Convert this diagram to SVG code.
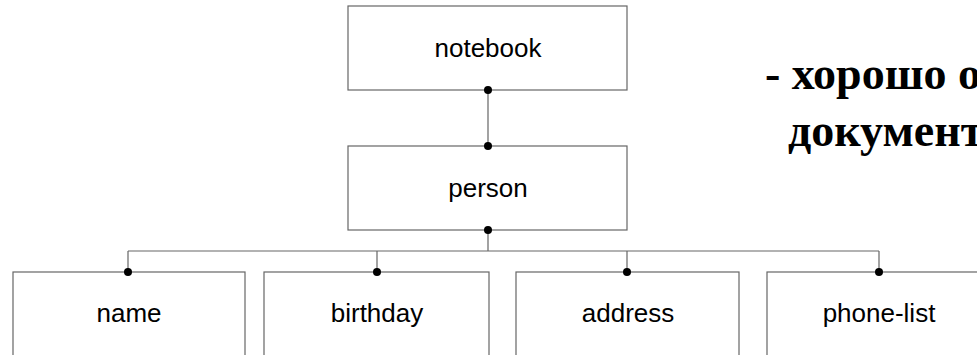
<svg xmlns="http://www.w3.org/2000/svg" width="977" height="355" viewBox="0 0 977 355">
<style>
.box{fill:#fff;stroke:#666;stroke-width:1.2}
.lbl{font-family:"Liberation Sans",Arial,sans-serif;font-size:26px;fill:#000;text-anchor:middle}
.ln{fill:none;stroke:#666;stroke-width:1.2}
.dot{fill:#000}
.big{font-family:"Liberation Serif","Times New Roman",serif;font-weight:bold;font-size:46px;fill:#000}
</style>
<rect width="977" height="355" fill="#fff"/>
<g id="connectors">
<path class="ln" d="M488 90V146M488 230V251M128 251H879M128 251V272M377 251V272M627 251V272M879 251V272"/>
</g>
<g id="notebook"><rect class="box" x="348" y="6" width="279" height="84"/><text class="lbl" x="488" y="57">notebook</text></g>
<g id="person"><rect class="box" x="348" y="146" width="279" height="84"/><text class="lbl" x="488" y="197">person</text></g>
<g id="name"><rect class="box" x="13" y="272" width="232" height="100"/><text class="lbl" x="129" y="322">name</text></g>
<g id="birthday"><rect class="box" x="264" y="272" width="225" height="100"/><text class="lbl" x="377" y="322">birthday</text></g>
<g id="address"><rect class="box" x="516" y="272" width="223" height="100"/><text class="lbl" x="628" y="322">address</text></g>
<g id="phone-list"><rect class="box" x="767" y="272" width="230" height="100"/><text class="lbl" x="879" y="322">phone-list</text></g>
<g id="dots">
<circle class="dot" cx="488" cy="90" r="4"/><circle class="dot" cx="488" cy="146" r="4"/><circle class="dot" cx="488" cy="230" r="4"/>
<circle class="dot" cx="128" cy="272" r="4"/><circle class="dot" cx="377" cy="272" r="4"/><circle class="dot" cx="627" cy="272" r="4"/><circle class="dot" cx="879" cy="272" r="4"/>
</g>
<g id="note">
<text class="big" x="765" y="89">- хорошо оформленный</text>
<text class="big" x="788" y="146">документ</text>
</g>
</svg>
